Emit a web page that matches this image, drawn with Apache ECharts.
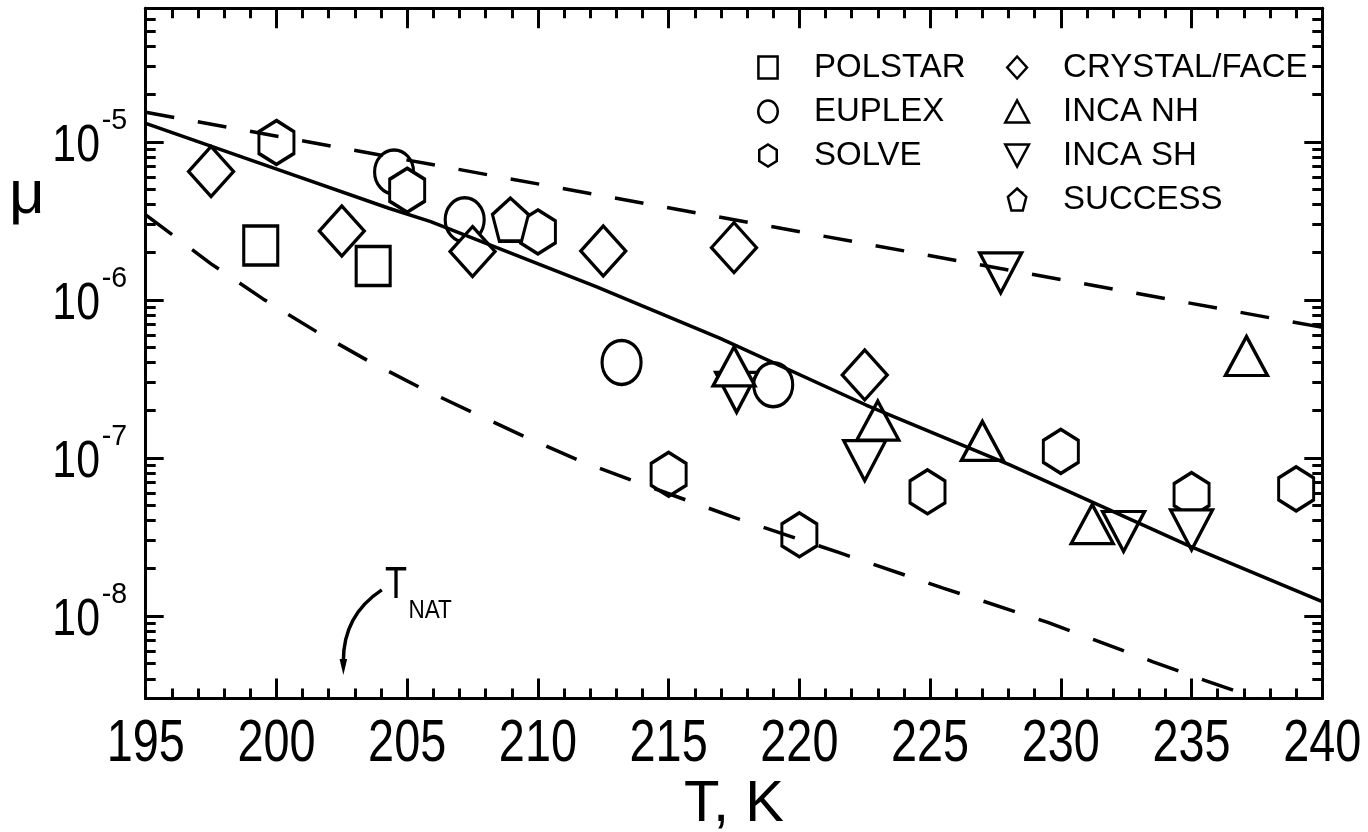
<!DOCTYPE html>
<html>
<head>
<meta charset="utf-8">
<script src="https://cdn.jsdelivr.net/npm/echarts@6/dist/echarts.min.js"></script>
<style>
  html, body { margin: 0; padding: 0; background: #fff; }
  #chart { width: 1368px; height: 832px; }
</style>
</head>
<body>
<div id="chart"></div>
<script>
const FONT = "'Liberation Sans Narrow', 'Arial Narrow', 'Liberation Sans', Arial, sans-serif";

// ---- axis ranges and tick labels ---------------------------------------
const tMin = 195, tMax = 240, tStep = 5;          // temperature, K
const tTicks = [195, 200, 205, 210, 215, 220, 225, 230, 235, 240];
const muMin = 3e-9, muMax = 7e-5;                 // mixing ratio (log scale)
const decadeExponents = [-8, -7, -6, -5];          // labelled powers of ten

// ---- campaign measurements: temperature (K) and mu ---------------------
const polstarT = [199.4, 203.7];
const polstarMu = [2.21e-6, 1.64e-6];

const euplexT = [204.5, 207.2, 213.2, 219.0];
const euplexMu = [6.45e-6, 3.21e-6, 4.02e-7, 2.90e-7];

const solveT = [200.0, 205.0, 210.0, 215.0, 220.0, 224.9, 230.0, 235.0, 239.0];
const solveMu = [9.9e-6, 4.94e-6, 2.69e-6, 7.87e-8, 3.26e-8, 6.1e-8, 1.10e-7, 5.86e-8, 6.37e-8];

const crystalT = [197.5, 202.5, 207.5, 212.5, 217.5, 222.5];
const crystalMu = [6.49e-6, 2.73e-6, 2.02e-6, 2.04e-6, 2.14e-6, 3.35e-7];

const incaNhT = [217.5, 223.0, 227.0, 231.2, 237.1];
const incaNhMu = [3.79e-7, 1.72e-7, 1.28e-7, 3.81e-8, 4.41e-7];

const incaShT = [217.6, 222.5, 227.7, 232.4, 235.0];
const incaShMu = [2.60e-7, 9.6e-8, 1.48e-6, 3.42e-8, 3.50e-8];

const successT = [208.95];
const successMu = [3.22e-6];

// ---- model curves --------------------------------------------------------
const fitT = [195, 199.9, 204.3, 205.9, 212.25, 216.95, 222.55, 228.05, 234.95, 240];
const fitMu = [1.31e-5, 6.82e-6, 3.80e-6, 3.13e-6, 1.21e-6, 5.73e-7, 2.16e-7, 9.04e-8, 2.75e-8, 1.23e-8];

const upperT = [195, 240];
const upperMu = [1.54e-5, 6.70e-7];

const lowerT = [195.0, 197.5, 199.5, 201.5, 203.5, 205.5, 207.5, 209.5, 211.5, 213.5,
                217.5, 221.5, 225.5, 229.5, 233.5, 235.5, 237.5];
const lowerMu = [3.45e-6, 1.69e-6, 1.01e-6, 6.34e-7, 4.12e-7, 2.78e-7, 1.94e-7, 1.36e-7, 9.75e-8, 7.30e-8,
                 4.20e-8, 2.52e-8, 1.50e-8, 9.1e-9, 5.14e-9, 3.91e-9, 3.0e-9];

// NAT existence temperature marked by the arrow
const tNat = 202.56;

// ---- helpers -------------------------------------------------------------
const lg = v => Math.log10(v);
const pairs = (t, mu) => t.map((x, i) => [x, lg(mu[i])]);

// minor ticks at 2..9 x 10^n inside the range
const minorTicks = [];
for (let e = -9; e <= -5; e++) {
  for (let k = 2; k <= 9; k++) {
    const v = lg(k) + e;
    if (v > lg(muMin) + 1e-6 && v < lg(muMax) - 1e-6) minorTicks.push(v);
  }
}

// hollow marker outlines (aspect ratio built into each path)
const SYM = {
  square:   'path://M-17,-19.5L17,-19.5L17,19.5L-17,19.5Z',
  ellipse:  'path://M0,-22C10.77,-22,19.5,-12.15,19.5,0C19.5,12.15,10.77,22,0,22C-10.77,22,-19.5,12.15,-19.5,0C-19.5,-12.15,-10.77,-22,0,-22Z',
  hexagon:  'path://M0,-22L17.5,-11L17.5,11L0,22L-17.5,11L-17.5,-11Z',
  diamond:  'path://M0,-25L22.5,0L0,25L-22.5,0Z',
  triUp:    'path://M0,-19.5L21,19.5L-21,19.5Z',
  triDown:  'path://M-21,-19.5L21,-19.5L0,19.5Z',
  pentagon: 'path://M0,-21.5L18,-5.07L11.13,21.5L-11.13,21.5L-18,-5.07Z'
};

function scatter(name, t, mu, symbol, size) {
  return {
    name, type: 'scatter', data: pairs(t, mu),
    symbol, symbolSize: size, symbolKeepAspect: false,
    itemStyle: { color: '#fff', borderColor: '#000', borderWidth: 3.3, opacity: 1 },
    emphasis: { disabled: true }, z: 2
  };
}
function curve(name, t, mu, dash) {
  return {
    name, type: 'line', data: pairs(t, mu), symbol: 'none', smooth: false,
    lineStyle: { color: '#000', width: 3.5, type: dash || 'solid' },
    emphasis: { disabled: true }, z: 4, silent: true
  };
}

const axisLine = { show: true, onZero: false, lineStyle: { color: '#000', width: 3 } };
const yBase = { type: 'value', min: lg(muMin), max: lg(muMax), splitLine: { show: false }, axisLine, axisLabel: { show: false } };
const xTicks = {
  axisTick: { inside: true, length: 20, lineStyle: { color: '#000', width: 3 } },
  minorTick: { show: true, splitNumber: 5, length: 10, lineStyle: { color: '#000', width: 3 } }
};

const legendText = { fontFamily: FONT, fontSize: 33, color: '#000', lineHeight: 44 };
const legendCommon = {
  orient: 'vertical', top: 45.5, itemWidth: 82, itemHeight: 22, itemGap: 0, padding: 0,
  textStyle: legendText, selectedMode: false, itemStyle: { borderWidth: 2.5 }
};

const chart = echarts.init(document.getElementById('chart'), null, { renderer: 'canvas' });

chart.setOption({
  animation: false,
  backgroundColor: '#fff',
  textStyle: { fontFamily: FONT },
  grid: { left: 145.7, right: 45.7, top: 8.3, bottom: 133.5, containLabel: false, outerBoundsMode: 'none' },
  legend: [
    Object.assign({ left: 757, data: ['POLSTAR', 'EUPLEX', 'SOLVE'] }, legendCommon),
    Object.assign({ left: 1004, data: ['CRYSTAL/FACE', 'INCA NH', 'INCA SH', 'SUCCESS'] }, legendCommon)
  ],
  xAxis: [
    Object.assign({
      type: 'value', position: 'bottom', min: tMin, max: tMax, interval: tStep,
      axisLine, splitLine: { show: false }, axisLabel: { show: false },
      name: 'T, K', nameLocation: 'middle', nameGap: 77,
      nameTextStyle: { fontFamily: FONT, fontSize: 58, color: '#000' }
    }, xTicks),
    Object.assign({
      type: 'value', position: 'top', min: tMin, max: tMax, interval: tStep,
      axisLine, splitLine: { show: false }, axisLabel: { show: false }
    }, xTicks)
  ],
  yAxis: [
    Object.assign({}, yBase, {
      position: 'left',
      axisTick: { inside: true, length: 18, customValues: decadeExponents, lineStyle: { color: '#000', width: 3 } }
    }),
    Object.assign({}, yBase, {
      position: 'left',
      axisTick: { inside: true, length: 10, customValues: minorTicks, lineStyle: { color: '#000', width: 3 } }
    }),
    Object.assign({}, yBase, {
      position: 'right',
      axisTick: { inside: true, length: 18, customValues: decadeExponents, lineStyle: { color: '#000', width: 3 } }
    }),
    Object.assign({}, yBase, {
      position: 'right',
      axisTick: { inside: true, length: 10, customValues: minorTicks, lineStyle: { color: '#000', width: 3 } }
    })
  ],
  series: [
    scatter('POLSTAR', polstarT, polstarMu, SYM.square, [34, 39]),
    scatter('EUPLEX', euplexT, euplexMu, SYM.ellipse, [39, 44]),
    scatter('SOLVE', solveT, solveMu, SYM.hexagon, [35, 44]),
    scatter('CRYSTAL/FACE', crystalT, crystalMu, SYM.diamond, [45, 50]),
    scatter('INCA SH', incaShT, incaShMu, SYM.triDown, [42, 40]),
    scatter('INCA NH', incaNhT, incaNhMu, SYM.triUp, [42, 39]),
    scatter('SUCCESS', successT, successMu, SYM.pentagon, [36, 43]),
    curve('fit', fitT, fitMu),
    curve('upper', upperT, upperMu, [29, 24]),
    curve('lower', lowerT, lowerMu, [33, 25])
  ]
});

// ---- condensed tick labels placed at the axis positions -----------------
const graphics = [];
const axisBottom = chart.convertToPixel({ yAxisIndex: 0 }, lg(muMin));
const axisLeft = chart.convertToPixel({ xAxisIndex: 0 }, tMin);

tTicks.forEach(t => {
  graphics.push({
    type: 'text', silent: true,
    x: chart.convertToPixel({ xAxisIndex: 0 }, t), y: axisBottom + 15.5, scaleX: 0.78,
    style: { text: String(t), font: '60px ' + FONT, fill: '#000', align: 'center', verticalAlign: 'top' }
  });
});
decadeExponents.forEach(e => {
  const py = chart.convertToPixel({ yAxisIndex: 0 }, e);
  graphics.push({
    type: 'text', silent: true,
    x: axisLeft - 45.7, y: py - 20.4, scaleX: 0.84,
    style: { text: '10', font: '51px ' + FONT, fill: '#000', align: 'right', verticalAlign: 'top' }
  });
  graphics.push({
    type: 'text', silent: true,
    x: axisLeft - 44, y: py - 35.9, scaleX: 0.95,
    style: { text: String(e), font: '30px ' + FONT, fill: '#000', align: 'left', verticalAlign: 'top' }
  });
});

// y axis title
graphics.push({
  type: 'text', left: 9, top: 164.5, silent: true,
  style: { text: 'μ', font: '62px ' + FONT, fill: '#000' }
});

// Annotation: the NAT temperature, an arrow dropping onto the T axis
const toPx = (t, mu) => chart.convertToPixel({ xAxisIndex: 0, yAxisIndex: 0 }, [t, lg(mu)]);
const S = toPx(204.03, 1.46e-8);   // arrow tail
const E = toPx(tNat, 4.23e-9);     // arrow tip
const dx = E[0] - S[0], dy = E[1] - S[1];

graphics.push(
  {
    type: 'bezierCurve', silent: true,
    shape: {
      x1: S[0], y1: S[1], x2: E[0], y2: E[1] - 14,
      cpx1: S[0] + 0.625 * dx, cpy1: S[1] + 0.186 * dy,
      cpx2: E[0], cpy2: S[1] + 0.465 * dy
    },
    style: { stroke: '#000', lineWidth: 3.5, fill: null }
  },
  {
    type: 'polygon', silent: true,
    shape: { points: [[E[0], E[1]], [E[0] - 3.8, E[1] - 16], [E[0] + 3.8, E[1] - 16]] },
    style: { fill: '#000' }
  },
  {
    type: 'text', silent: true, x: S[0] + 3.3, y: S[1] - 25.7, scaleX: 0.82,
    style: { text: 'T', font: '44px ' + FONT, fill: '#000', verticalAlign: 'top' }
  },
  {
    type: 'text', silent: true, x: S[0] + 26.6, y: S[1] + 8.8, scaleX: 0.9,
    style: { text: 'NAT', font: '25px ' + FONT, fill: '#000', verticalAlign: 'top' }
  }
);

chart.setOption({ graphic: graphics });
</script>
</body>
</html>
